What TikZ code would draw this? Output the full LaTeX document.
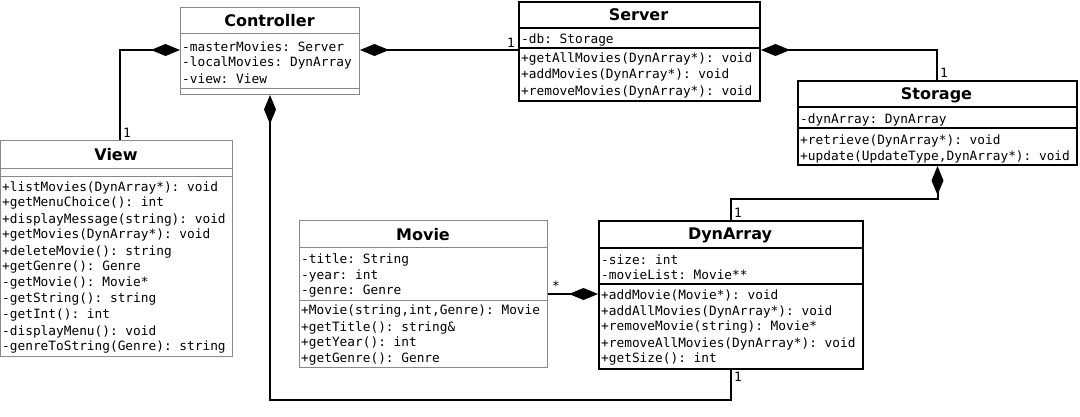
\documentclass[tikz,border=0pt]{standalone}
\usepackage{fontspec}
\setmainfont{DejaVu Sans}
\setmonofont{DejaVu Sans Mono}
\usetikzlibrary{arrows.meta}
\definecolor{boxgray}{HTML}{888888}

\begin{document}
\begin{tikzpicture}[x=1pt, y=-1pt,
    darkbox/.style={draw=black, line width=2pt, anchor=north west, inner sep=0pt},
    greybox/.style={draw=boxgray, line width=1pt, anchor=north west, inner sep=0pt},
    classname/.style={font=\fontsize{16}{19}\selectfont\bfseries, inner sep=0pt, yshift=-1pt},
    member/.style={font=\ttfamily\fontsize{12.8}{16}\selectfont, anchor=west, inner sep=0pt, yshift=-1.5pt},
    mult/.style={font=\ttfamily\fontsize{12.8}{16}\selectfont, inner sep=0pt},
    comp/.style={line width=2pt, {Diamond[length=29pt, width=12pt]}-}]
    \useasboundingbox (0,0) rectangle (1080,417);

    % Controller
    \node[greybox, minimum width=179pt, minimum height=87pt] (ctrl) at (180,7) {};
    \draw[boxgray] (180,33) -- (359,33); \draw[boxgray] (180,88) -- (359,88);
    \node[classname] at (269.5,20) {Controller};
    \foreach \t [count=\i from 0] in {-masterMovies: Server, -localMovies: DynArray, -view: View}
        \node[member] at (182,45+16*\i) {\t};

    % Server
    \node[darkbox, minimum width=241pt, minimum height=99pt] (srv) at (518,1) {};
    \draw[line width=2pt] (518,28) -- (759,28); \draw[line width=2pt] (518,48) -- (759,48);
    \node[classname] at (638.5,14) {Server};
    \node[member] at (521,39) {-db: Storage};
    \foreach \t [count=\i from 0] in {+getAllMovies(DynArray*): void, +addMovies(DynArray*): void, +removeMovies(DynArray*): void}
        \node[member] at (521,57+16.7*\i) {\t};

    % Storage
    \node[darkbox, minimum width=279pt, minimum height=84pt] (stor) at (797,80) {};
    \draw[line width=2pt] (797,107) -- (1076,107); \draw[line width=2pt] (797,128) -- (1076,128);
    \node[classname] at (936.5,94) {Storage};
    \node[member] at (800,118) {-dynArray: DynArray};
    \foreach \t [count=\i from 0] in {+retrieve(DynArray*): void, {+update(UpdateType,DynArray*): void}}
        \node[member] at (800,139+16*\i) {\t};

    % View
    \node[greybox, minimum width=232pt, minimum height=216pt] (view) at (0,140) {};
    \draw[boxgray] (0,168) -- (232,168); \draw[boxgray] (0,176) -- (232,176);
    \node[classname] at (116,154) {View};
    \foreach \t [count=\i from 0] in {+listMovies(DynArray*): void, +getMenuChoice(): int,
        +displayMessage(string): void, +getMovies(DynArray*): void, +deleteMovie(): string,
        +getGenre(): Genre, -getMovie(): Movie*, -getString(): string, -getInt(): int,
        -displayMenu(): void, -genreToString(Genre): string}
        \node[member] at (2,186+16*\i) {\t};

    % Movie
    \node[greybox, minimum width=248pt, minimum height=147pt] (movie) at (299,220) {};
    \draw[boxgray] (299,247) -- (547,247); \draw[boxgray] (299,300) -- (547,300);
    \node[classname] at (423,234) {Movie};
    \foreach \t [count=\i from 0] in {-title: String, -year: int, -genre: Genre}
        \node[member] at (301,258+16*\i) {\t};
    \foreach \t [count=\i from 0] in {{+Movie(string,int,Genre): Movie}, +getTitle(): string\&,
        +getYear(): int, +getGenre(): Genre}
        \node[member] at (301,310+16*\i) {\t};

    % DynArray
    \node[darkbox, minimum width=264pt, minimum height=148pt] (dyn) at (598,220) {};
    \draw[line width=2pt] (598,248) -- (862,248); \draw[line width=2pt] (598,284) -- (862,284);
    \node[classname] at (730,234) {DynArray};
    \foreach \t [count=\i from 0] in {-size: int, -movieList: Movie**}
        \node[member] at (601,258+15.5*\i) {\t};
    \foreach \t [count=\i from 0] in {+addMovie(Movie*): void, +addAllMovies(DynArray*): void,
        +removeMovie(string): Movie*, +removeAllMovies(DynArray*): void, +getSize(): int}
        \node[member] at (601,294+16*\i) {\t};

    % compositions
    \coordinate (cv) at (120,50); \coordinate (ss) at (937,50);
    \coordinate (sd) at (0,199); \coordinate (md) at (0,294); \coordinate (cd) at (0,400);
    \draw[comp] (ctrl.west |- cv) -- (cv) -- (cv |- view.north);
    \draw[comp] (ctrl.east |- cv) -- (srv.west |- cv);
    \draw[comp] (srv.east |- ss) -- (ss) -- (ss |- stor.north);
    \draw[comp] (stor.south) -- (stor.south |- sd) -- (dyn.north |- sd) -- (dyn.north);
    \draw[comp] (dyn.west |- md) -- (movie.east |- md);
    \draw[comp] (ctrl.south) -- (ctrl.south |- cd) -- (dyn.south |- cd) -- (dyn.south);

    % multiplicities
    \node[mult, anchor=south west] at ([shift={(3,-2)}]cv |- view.north) {1};
    \node[mult, anchor=south east] at ([shift={(-3,-2)}]srv.west |- cv) {1};
    \node[mult, anchor=south west] at ([shift={(3,-2)}]ss |- stor.north) {1};
    \node[mult, anchor=south west] at ([shift={(3,-2)}]dyn.north) {1};
    \node[mult, anchor=south west] at ([shift={(4,-3)}]movie.east |- md) {*};
    \node[mult, anchor=north west] at ([shift={(3,2)}]dyn.south) {1};
\end{tikzpicture}
\end{document}
